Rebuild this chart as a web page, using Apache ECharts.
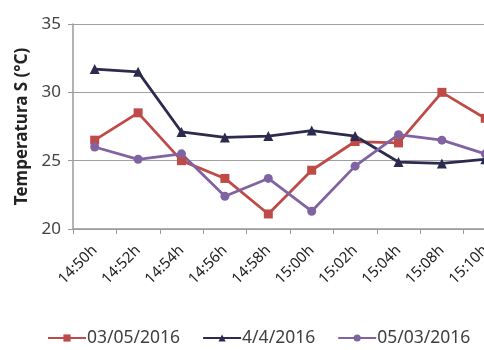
<!DOCTYPE html>
<html>
<head>
<meta charset="utf-8">
<script src="https://cdn.jsdelivr.net/npm/echarts@6/dist/echarts.min.js"></script>
<style>
  html, body { margin: 0; padding: 0; background: #ffffff; }
  #chart { width: 484px; height: 350px; }
</style>
</head>
<body>
<div id="chart"></div>
<script>
// Time of each reading
const times = ['14:50h', '14:52h', '14:54h', '14:56h', '14:58h', '15:00h', '15:02h', '15:04h', '15:08h', '15:10h'];

// Temperature readings (°C) per day
const day1Name = '03/05/2016';
const day1 = [26.5, 28.5, 25.0, 23.7, 21.1, 24.3, 26.4, 26.3, 30.0, 28.1];

const day2Name = '4/4/2016';
const day2 = [31.7, 31.5, 27.1, 26.7, 26.8, 27.2, 26.8, 24.9, 24.8, 25.1];

const day3Name = '05/03/2016';
const day3 = [26.0, 25.1, 25.5, 22.4, 23.7, 21.3, 24.6, 26.9, 26.5, 25.5];

// Y axis range
const yMin = 20, yMax = 35, yStep = 5;

const font = 'Noto Sans';
const chart = echarts.init(document.getElementById('chart'), null, { renderer: 'canvas' });

function lineSeries(name, data, color, symbol, size) {
  return {
    name: name,
    type: 'line',
    data: data,
    symbol: symbol,
    symbolSize: size,
    lineStyle: { color: color, width: 2.8 },
    itemStyle: { color: color },
    animation: false
  };
}

chart.setOption({
  backgroundColor: '#ffffff',
  // plot area runs past the right edge of the canvas, so the last column is clipped
  grid: { left: 73, top: 24, width: 434, height: 205, containLabel: false, outerBoundsMode: 'none' },
  legend: {
    bottom: -2,
    left: 42,
    itemWidth: 38,
    itemHeight: 9,
    itemGap: 22,
    textStyle: { fontFamily: font, fontSize: 17.5, color: '#404040', padding: [0, 0, 0, -4] },
    data: [day1Name, day2Name, day3Name]
  },
  xAxis: {
    type: 'category',
    data: times,
    boundaryGap: true,
    axisLine: { lineStyle: { color: '#9a9a9a', width: 1.5 } },
    axisTick: { show: true, length: 5, lineStyle: { color: '#9a9a9a' } },
    axisLabel: {
      rotate: 45,
      margin: 19,
      interval: 0,
      fontFamily: font,
      fontSize: 15,
      color: '#222222'
    },
    splitLine: { show: false }
  },
  yAxis: {
    type: 'value',
    min: yMin,
    max: yMax,
    interval: yStep,
    name: 'Temperatura S (°C)',
    nameLocation: 'middle',
    nameGap: 42,
    nameTextStyle: { fontFamily: font, fontSize: 17, fontWeight: 'bold', color: '#222222' },
    axisLine: { show: true, lineStyle: { color: '#9a9a9a', width: 1.5 } },
    axisTick: { show: true, length: 5, lineStyle: { color: '#9a9a9a' } },
    axisLabel: { fontFamily: font, fontSize: 17, color: '#444444', margin: 12 },
    splitLine: { show: true, lineStyle: { color: '#a0a0a0', width: 1.2 } }
  },
  series: [
    lineSeries(day1Name, day1, '#be4b48', 'rect', 9),
    lineSeries(day2Name, day2, '#2c2a4e', 'triangle', 10),
    lineSeries(day3Name, day3, '#8064a2', 'circle', 9)
  ]
});
</script>
</body>
</html>
